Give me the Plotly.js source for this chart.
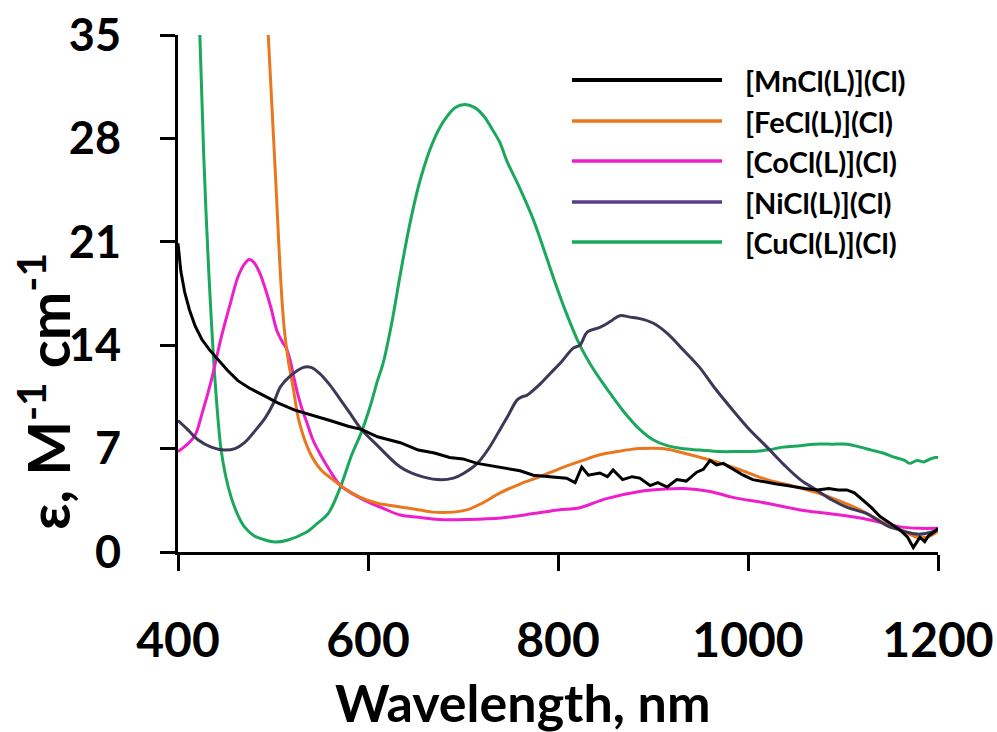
<!DOCTYPE html>
<html>
<head>
<meta charset="utf-8">
<script src="https://cdn.plot.ly/plotly-3.0.1.min.js"></script>
<style>html,body{margin:0;padding:0;background:#fff;}#chart{width:997px;height:732px;}</style>
</head>
<body>
<div id="chart"></div>
<script>
const seriesNames = ["[MnCl(L)](Cl)", "[FeCl(L)](Cl)", "[CoCl(L)](Cl)", "[NiCl(L)](Cl)", "[CuCl(L)](Cl)"];
const seriesColors = ["#000000", "#E8771E", "#EE1FCB", "#3E3858", "#1AA85C"];
const legendColors = ["#000000", "#E8771E", "#EE1FCB", "#5A3E8A", "#1AA85C"];

const xTicks = [400, 600, 800, 1000, 1200];
const yTicks = [0, 7, 14, 21, 28, 35];

const mnX = [400, 403, 407, 412, 418, 425, 433, 441, 452, 463, 475, 490, 505, 523, 540, 560, 580, 593, 610, 634, 653, 670, 686, 700, 715, 739, 760, 774, 790, 809, 818, 825, 832, 844, 852, 858, 868, 878, 886, 897, 905, 915, 925, 935, 946, 953, 960, 967, 974, 985, 995, 1005, 1020, 1030, 1041, 1050, 1060, 1073, 1085, 1095, 1104, 1112, 1121, 1130, 1139, 1150, 1160, 1168, 1174, 1178, 1181, 1186, 1190, 1195, 1200];
const mnY = [20.9, 19.0, 17.6, 16.4, 15.3, 14.4, 13.7, 13.1, 12.3, 11.6, 11.1, 10.6, 10.1, 9.6, 9.3, 8.9, 8.5, 8.3, 7.8, 7.4, 6.9, 6.7, 6.4, 6.3, 6.0, 5.75, 5.5, 5.2, 5.1, 5.0, 4.7, 5.75, 5.2, 5.35, 5.1, 5.55, 4.9, 5.1, 5.0, 4.5, 4.7, 4.4, 4.9, 4.8, 5.4, 5.6, 6.2, 5.9, 6.0, 5.6, 5.2, 4.9, 4.7, 4.6, 4.5, 4.4, 4.3, 4.2, 4.3, 4.2, 4.2, 4.0, 3.5, 3.0, 2.4, 1.9, 1.5, 1.0, 0.3, 0.7, 1.0, 0.7, 1.1, 1.3, 1.6];

const feX = [495, 499, 503, 506, 509, 512, 516, 521, 528, 539, 550, 563, 578, 592, 610, 634, 650, 668, 690, 704, 720, 739, 760, 781, 800, 826, 845, 862, 886, 910, 932, 950, 967, 990, 1020, 1045, 1073, 1095, 1118, 1142, 1155, 1167, 1178, 1188, 1195, 1200];
const feY = [35, 30, 25, 21, 17.5, 15.0, 13.0, 11.2, 8.7, 6.7, 5.6, 4.9, 4.2, 3.7, 3.3, 3.05, 2.9, 2.7, 2.7, 2.85, 3.3, 4.0, 4.6, 5.1, 5.6, 6.2, 6.6, 6.8, 7.0, 7.0, 6.7, 6.4, 6.1, 5.6, 4.9, 4.5, 4.0, 3.5, 2.85, 2.0, 1.6, 1.3, 1.0, 1.0, 1.2, 1.4];

const coX = [400, 410, 418, 425, 435, 445, 455, 463, 470, 475, 480, 486, 492, 498, 504, 510, 514, 518, 522, 526, 530, 536, 542, 549, 560, 571, 585, 600, 618, 634, 653, 675, 704, 740, 774, 800, 823, 850, 886, 910, 932, 960, 984, 1020, 1055, 1085, 1118, 1140, 1160, 1180, 1200];
const coY = [6.8, 7.3, 7.9, 9.3, 11.6, 14.4, 16.8, 18.6, 19.5, 19.8, 19.6, 18.9, 17.8, 16.5, 15.0, 14.2, 13.8, 13.0, 11.8, 10.7, 9.8, 8.7, 7.6, 6.7, 5.5, 4.5, 3.9, 3.4, 2.9, 2.5, 2.35, 2.2, 2.2, 2.3, 2.6, 2.85, 3.0, 3.6, 4.1, 4.25, 4.3, 4.1, 3.7, 3.3, 2.85, 2.6, 2.3, 2.0, 1.7, 1.6, 1.6];

const niX = [400, 410, 421, 435, 449, 460, 470, 481, 492, 500, 508, 518, 532, 540, 549, 560, 570, 581, 593, 610, 634, 652, 673, 690, 700, 715, 727, 739, 748, 757, 762, 767, 780, 792, 804, 816, 823, 831, 844, 855, 865, 876, 886, 900, 915, 930, 949, 965, 984, 1000, 1020, 1038, 1055, 1072, 1089, 1105, 1125, 1138, 1149, 1160, 1170, 1180, 1190, 1200];
const niY = [8.9, 8.3, 7.6, 7.1, 6.9, 7.0, 7.4, 8.2, 9.1, 10.0, 11.2, 11.9, 12.5, 12.5, 12.1, 11.3, 10.4, 9.4, 8.3, 7.2, 5.75, 5.2, 4.9, 5.0, 5.3, 6.0, 7.0, 8.3, 9.3, 10.3, 10.5, 10.6, 11.3, 12.1, 12.9, 13.8, 14.0, 14.9, 15.2, 15.6, 16.0, 15.9, 15.8, 15.5, 14.8, 13.8, 12.5, 11.1, 9.6, 8.4, 7.1, 5.9, 4.9, 4.2, 3.5, 3.0, 2.6, 2.1, 1.7, 1.5, 1.3, 1.2, 1.3, 1.5];

const cuX = [423, 427, 432, 439, 445, 450, 456, 463, 470, 480, 490, 502, 515, 534, 546, 558, 571, 583, 593, 602, 610, 616, 625, 634, 644, 655, 668, 680, 692, 702, 712, 722, 730, 739, 746, 760, 774, 785, 795, 808, 823, 837, 852, 868, 886, 900, 915, 930, 949, 970, 990, 1002, 1020, 1037, 1055, 1070, 1089, 1105, 1118, 1130, 1142, 1155, 1165, 1170, 1178, 1185, 1192, 1197, 1200];
const cuY = [35, 27, 19.5, 11.6, 7.1, 5.2, 3.7, 2.5, 1.7, 1.1, 0.85, 0.68, 0.8, 1.3, 1.9, 2.6, 4.4, 6.6, 8.1, 9.8, 11.6, 12.8, 15.5, 18.8, 22.2, 25.2, 27.7, 29.2, 30.1, 30.3, 30.1, 29.5, 28.7, 27.7, 26.5, 24.6, 22.5, 20.5, 18.6, 16.3, 14.0, 12.4, 11.0, 9.6, 8.3, 7.6, 7.2, 7.0, 6.9, 6.8, 6.8, 6.8, 6.9, 7.1, 7.2, 7.3, 7.3, 7.3, 7.1, 6.9, 6.7, 6.4, 6.2, 6.0, 6.2, 6.1, 6.3, 6.4, 6.4];

const xs = [mnX, feX, coX, niX, cuX];
const ys = [mnY, feY, coY, niY, cuY];
const widths = [3, 3, 3, 3, 3];
const shapesLine = ['linear', 'spline', 'spline', 'spline', 'spline'];

const traces = seriesNames.map((n, i) => ({
  type: 'scatter', mode: 'lines', name: n,
  x: xs[i], y: ys[i],
  line: {color: seriesColors[i], width: widths[i], shape: shapesLine[i], smoothing: 1},
  showlegend: false, hoverinfo: 'skip'
}));
const order = [4, 2, 1, 3, 0];
const data = order.map(i => traces[i]);

const FONT = 'Lato, "Open Sans", sans-serif';

const legRowsPx = [80, 121, 161, 202, 242];
const shapes = [];
const annotations = [];
legRowsPx.forEach((py, i) => {
  const yp = (552 - py) / 517;
  shapes.push({type: 'line', xref: 'paper', yref: 'paper',
    x0: (572 - 178) / 760, x1: (722 - 178) / 760, y0: yp, y1: yp,
    line: {color: legendColors[i], width: i === 0 ? 4 : 3.5}});
  annotations.push({xref: 'paper', yref: 'paper', x: (743 - 178) / 760, y: yp,
    xanchor: 'left', yanchor: 'middle', showarrow: false,
    text: seriesNames[i], font: {family: FONT, size: 29, weight: 'bold', color: '#000'}});
});
annotations.push({xref: 'paper', yref: 'paper', x: (44 - 178) / 760, y: (552 - 392) / 517,
  xanchor: 'center', yanchor: 'middle', showarrow: false, textangle: -90,
  text: 'ε, M<sup>-1</sup> cm<sup>-1</sup>', font: {family: FONT, size: 58, weight: 'bold', color: '#000'}});
annotations.push({xref: 'paper', yref: 'paper', x: (522 - 178) / 760, y: (552 - 702) / 517,
  xanchor: 'center', yanchor: 'middle', showarrow: false,
  text: 'Wavelength, nm', font: {family: FONT, size: 52, weight: 'bold', color: '#000'}});

const layout = {
  width: 997, height: 732,
  margin: {l: 178, r: 59, t: 35, b: 180},
  paper_bgcolor: '#fff', plot_bgcolor: '#fff',
  showlegend: false,
  xaxis: {
    range: [400, 1200], tickvals: xTicks, ticktext: xTicks.map(String),
    ticks: 'outside', ticklen: 16, tickwidth: 3, tickcolor: '#000',
    showline: true, linewidth: 3, linecolor: '#000',
    showgrid: false, zeroline: false, ticklabelstandoff: 28,
    tickfont: {family: FONT, size: 48, weight: 'bold', color: '#000'}
  },
  yaxis: {
    range: [0, 35], tickvals: yTicks, ticktext: yTicks.map(String),
    ticks: 'outside', ticklen: 15, tickwidth: 3, tickcolor: '#000',
    showline: true, linewidth: 3, linecolor: '#000',
    showgrid: false, zeroline: false, ticklabelstandoff: 30,
    tickfont: {family: FONT, size: 45, weight: 'bold', color: '#000'}
  },
  shapes: shapes,
  annotations: annotations
};

Plotly.newPlot('chart', data, layout, {displayModeBar: false, staticPlot: true});
</script>
</body>
</html>
